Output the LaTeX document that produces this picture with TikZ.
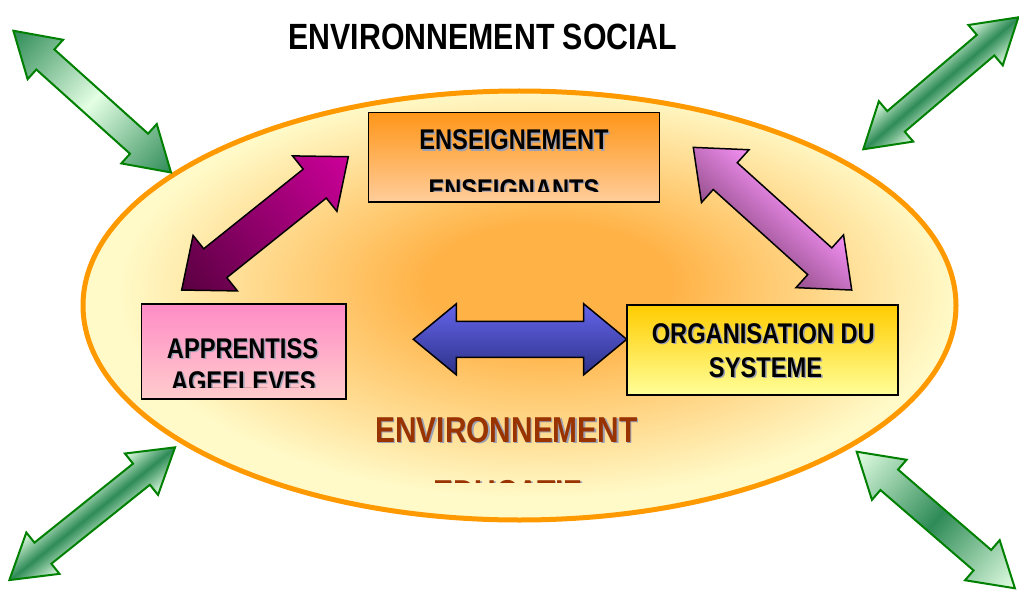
\documentclass[tikz,border=0pt]{standalone}
\usepackage{fontspec}
\newfontfamily\nbf[FakeStretch=0.83]{Liberation Sans Bold}
\usetikzlibrary{shapes.geometric}
\definecolor{glowC}{RGB}{255,178,70}
\definecolor{paleC}{RGB}{255,250,200}
\definecolor{ellC}{RGB}{255,153,0}
\definecolor{gD}{RGB}{46,139,87}
\definecolor{gL}{RGB}{228,255,228}
\definecolor{gLine}{RGB}{0,128,0}
\definecolor{mD}{RGB}{90,0,65}
\definecolor{mL}{RGB}{204,0,153}
\definecolor{pL}{RGB}{245,145,245}
\definecolor{pD}{RGB}{150,80,140}
\definecolor{bL}{RGB}{100,100,235}
\definecolor{bD}{RGB}{45,50,135}
\definecolor{ensT}{RGB}{255,150,25}
\definecolor{ensB}{RGB}{255,205,155}
\definecolor{appT}{RGB}{255,140,198}
\definecolor{appB}{RGB}{255,204,204}
\definecolor{orgT}{RGB}{255,204,0}
\definecolor{orgB}{RGB}{255,255,153}
\definecolor{brownC}{RGB}{153,51,0}
\definecolor{shadowC}{RGB}{155,160,180}
\pgfdeclareradialshading{glow}{\pgfpoint{2bp}{3bp}}{color(0bp)=(glowC); color(7bp)=(glowC); color(24bp)=(paleC); color(50bp)=(paleC)}
% #1 cx, #2 cy, #3 angle, #4 length, #5 shaft width, #6 head width, #7 head length, #8 style
\newcommand\blockarrow[8]{%
  \begin{scope}[transform canvas={shift={(#1pt,#2pt)},rotate=#3}]
    \path[#8] ({-#4/2},0) -- ({-#4/2+#7},{#6/2}) -- ({-#4/2+#7},{#5/2}) -- ({#4/2-#7},{#5/2}) -- ({#4/2-#7},{#6/2}) -- ({#4/2},0) -- ({#4/2-#7},{-#6/2}) -- ({#4/2-#7},{-#5/2}) -- ({-#4/2+#7},{-#5/2}) -- ({-#4/2+#7},{-#6/2}) -- cycle;
  \end{scope}}
\tikzset{
  garrow/.style={draw=gLine, line width=2pt, line join=miter},
  karrow/.style={draw=black, line width=1.5pt, line join=miter},
  boxst/.style={draw=black, line width=1.5pt, inner sep=0pt, rectangle},
  lbl/.style={font=\nbf\fontsize{28.5}{30}\selectfont, inner sep=0pt, anchor=base},
  big/.style={font=\nbf\fontsize{36}{38}\selectfont, inner sep=0pt, anchor=base},
  shd/.style={text=shadowC},
}
\begin{document}
\begin{tikzpicture}[x=1pt,y=1pt]
\fill[white] (0,0) rectangle (1019,590);
\useasboundingbox (0,0) rectangle (1019,590);

% environment ellipse
\node[ellipse, minimum width=873pt, minimum height=429pt, inner sep=0pt, shade, shading=glow, draw=ellC, line width=5pt] (env) at (519.5,284.5) {};

% outer green arrows
\blockarrow{92.2}{488.4}{-41.96}{212}{27}{53}{43}{garrow, left color=gD, right color=gD, middle color=gL}
\blockarrow{940.8}{506.7}{40.4}{203.6}{27}{53}{43}{garrow, top color=gL, bottom color=gL, middle color=gD}
\blockarrow{92.2}{76.3}{38.7}{212.3}{27}{53}{43}{garrow, top color=gL, bottom color=gL, middle color=gD}
\blockarrow{935.8}{70}{-40.8}{209}{27}{53}{43}{garrow, left color=gL, right color=gL, middle color=gD}

% boxes
\node[boxst, minimum width=291pt, minimum height=89.5pt, top color=ensT, bottom color=ensB] (ens) at (514,432.75) {};
\node[boxst, minimum width=204.5pt, minimum height=95pt, top color=appT, bottom color=appB] (app) at (243.75,238.5) {};
\node[boxst, minimum width=271pt, minimum height=90pt, top color=orgT, bottom color=orgB] (org) at (762.5,240) {};

% inner arrows
\blockarrow{265}{366.6}{38.66}{213.4}{37}{71}{43}{karrow, left color=mD, right color=mL}
\blockarrow{772.5}{371.3}{-42}{213.2}{36}{71}{43}{karrow, top color=pL, bottom color=pD}
\blockarrow{520}{250.7}{0}{213.4}{36}{71}{43}{karrow, top color=bL, bottom color=bD}

% title
\node[big, font=\nbf\fontsize{36.5}{38}\selectfont] (title) at (483,540) {ENVIRONNEMENT SOCIAL};

% top box text
\begin{scope}
  \clip (370,398) rectangle (659,476);
  \node[lbl,shd] (ensAs) at (515.5,438.5) {ENSEIGNEMENT};
  \node[lbl] (ensA) at (514,440) {ENSEIGNEMENT};
  \node[lbl,shd] (ensBs) at (515.5,389.5) {ENSEIGNANTS};
  \node[lbl] (ensB) at (514,391) {ENSEIGNANTS};
\end{scope}

% left box text
\begin{scope}
  \clip (143,203) rectangle (345,285);
  \node[lbl,shd] (appAs) at (244,230.5) {APPRENTISS};
  \node[lbl] (appA) at (242.5,232) {APPRENTISS};
  \node[lbl,shd] (appBs) at (244.8,197.5) {AGEELEVES};
  \node[lbl] (appB) at (243.3,199) {AGEELEVES};
\end{scope}

% right box text
\node[lbl,shd] (orgAs) at (764.8,245.5) {ORGANISATION DU};
\node[lbl] (orgA) at (763.3,247) {ORGANISATION DU};
\node[lbl,shd] (orgBs) at (767,211.5) {SYSTEME};
\node[lbl] (orgB) at (765.5,213) {SYSTEME};

% environnement educatif
\begin{scope}
  \clip (360,108) rectangle (660,200);
  \node[big,shd] (envAs) at (508,146.5) {ENVIRONNEMENT};
  \node[big,text=brownC] (envA) at (506.5,148) {ENVIRONNEMENT};
  \node[big,shd] (envBs) at (509,83.5) {EDUCATIF};
  \node[big,text=brownC] (envB) at (507.5,85) {EDUCATIF};
\end{scope}
\end{tikzpicture}
\end{document}
